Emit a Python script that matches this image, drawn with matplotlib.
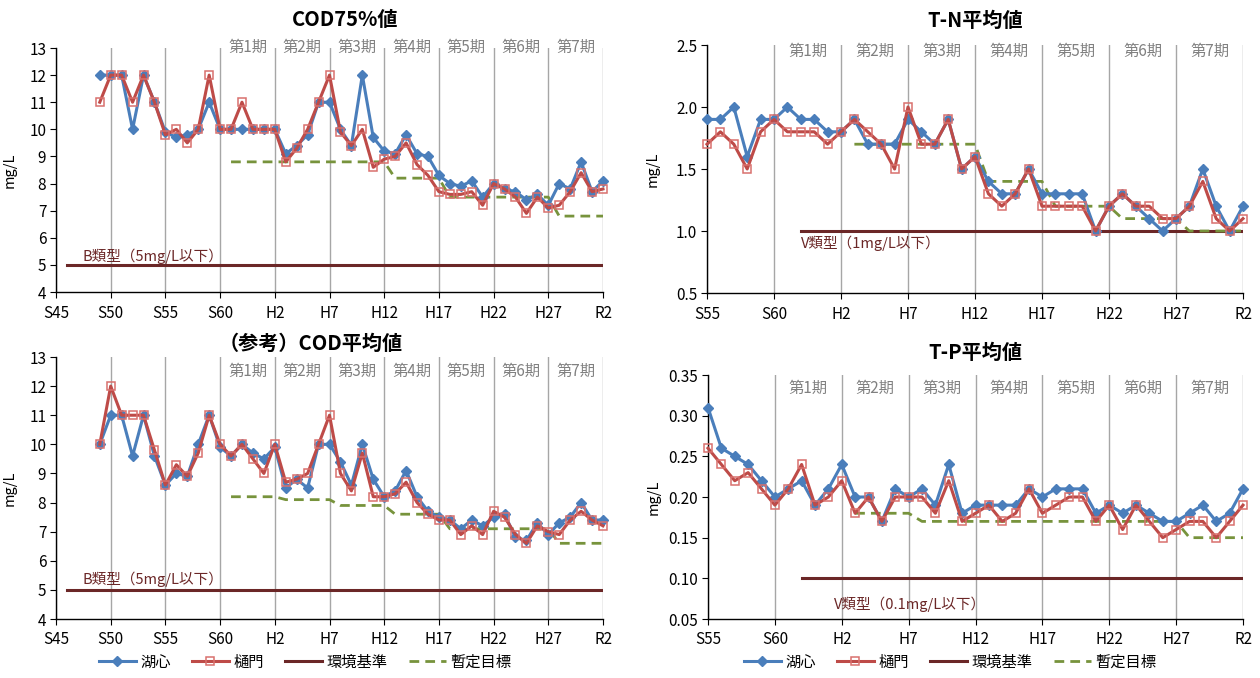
import matplotlib
matplotlib.use('Agg')
import matplotlib.pyplot as plt

plt.rcParams['font.family'] = ['Noto Sans CJK JP', 'DejaVu Sans']

W, H = 1260, 678

# ---- data ----
years_cod = list(range(1974, 2021))
years_np = list(range(1980, 2021))

cod75_center = [12.0, 12.0, 12.0, 10.0, 12.0, 11.0, 9.9, 9.7, 9.8, 10.0,
                11.0, 10.0, 10.0, 10.0, 10.0, 10.0, 10.0, 9.1, 9.4, 9.8,
                11.0, 11.0, 10.0, 9.4, 12.0, 9.7, 9.2, 9.1, 9.8, 9.1,
                9.0, 8.3, 8.0, 7.9, 8.1, 7.5, 8.0, 7.8, 7.7, 7.4,
                7.6, 7.2, 8.0, 7.8, 8.8, 7.7, 8.1]
cod75_gate = [11.0, 12.0, 12.0, 11.0, 12.0, 11.0, 9.8, 10.0, 9.5, 10.0,
              12.0, 10.0, 10.0, 11.0, 10.0, 10.0, 10.0, 8.8, 9.3, 10.0,
              11.0, 12.0, 9.9, 9.4, 10.0, 8.6, 8.9, 9.0, 9.5, 8.7,
              8.3, 7.7, 7.6, 7.6, 7.7, 7.2, 8.0, 7.8, 7.5, 6.9,
              7.5, 7.1, 7.2, 7.7, 8.4, 7.7, 7.8]

codavg_center = [10.0, 11.0, 11.0, 9.6, 11.0, 9.6, 8.6, 9.0, 8.9, 10.0,
                 11.0, 9.9, 9.6, 10.0, 9.7, 9.5, 9.9, 8.5, 8.8, 8.5,
                 10.0, 10.0, 9.4, 8.6, 10.0, 8.8, 8.2, 8.4, 9.1, 8.2,
                 7.7, 7.5, 7.4, 7.1, 7.4, 7.2, 7.5, 7.6, 6.8, 6.7,
                 7.3, 6.9, 7.3, 7.5, 8.0, 7.4, 7.4]
codavg_gate = [10.0, 12.0, 11.0, 11.0, 11.0, 9.8, 8.6, 9.3, 8.9, 9.7,
               11.0, 10.0, 9.6, 10.0, 9.5, 9.0, 10.0, 8.7, 8.8, 9.0,
               10.0, 11.0, 9.0, 8.4, 9.7, 8.2, 8.2, 8.3, 8.7, 8.0,
               7.6, 7.4, 7.4, 6.9, 7.2, 6.9, 7.7, 7.5, 6.9, 6.6,
               7.2, 7.0, 6.9, 7.4, 7.7, 7.4, 7.2]

tn_center = [1.9, 1.9, 2.0, 1.6, 1.9, 1.9, 2.0, 1.9, 1.9, 1.8,
             1.8, 1.9, 1.7, 1.7, 1.7, 1.9, 1.8, 1.7, 1.9, 1.5,
             1.6, 1.4, 1.3, 1.3, 1.5, 1.3, 1.3, 1.3, 1.3, 1.0,
             1.2, 1.3, 1.2, 1.1, 1.0, 1.1, 1.2, 1.5, 1.2, 1.0, 1.2]
tn_gate = [1.7, 1.8, 1.7, 1.5, 1.8, 1.9, 1.8, 1.8, 1.8, 1.7,
           1.8, 1.9, 1.8, 1.7, 1.5, 2.0, 1.7, 1.7, 1.9, 1.5,
           1.6, 1.3, 1.2, 1.3, 1.5, 1.2, 1.2, 1.2, 1.2, 1.0,
           1.2, 1.3, 1.2, 1.2, 1.1, 1.1, 1.2, 1.4, 1.1, 1.0, 1.1]

tp_center = [0.31, 0.26, 0.25, 0.24, 0.22, 0.20, 0.21, 0.22, 0.19, 0.21,
             0.24, 0.20, 0.20, 0.17, 0.21, 0.20, 0.21, 0.19, 0.24, 0.18,
             0.19, 0.19, 0.19, 0.19, 0.21, 0.20, 0.21, 0.21, 0.21, 0.18,
             0.19, 0.18, 0.19, 0.18, 0.17, 0.17, 0.18, 0.19, 0.17, 0.18, 0.21]
tp_gate = [0.26, 0.24, 0.22, 0.23, 0.21, 0.19, 0.21, 0.24, 0.19, 0.20,
           0.22, 0.18, 0.20, 0.17, 0.20, 0.20, 0.20, 0.18, 0.22, 0.17,
           0.18, 0.19, 0.17, 0.18, 0.21, 0.18, 0.19, 0.20, 0.20, 0.17,
           0.19, 0.16, 0.19, 0.17, 0.15, 0.16, 0.17, 0.17, 0.15, 0.17, 0.19]

# provisional targets (暫定目標)
years_tgt_cod = list(range(1986, 2021))
cod75_target = [8.8, 8.8, 8.8, 8.8, 8.8, 8.8, 8.8, 8.8, 8.8, 8.8,
                8.8, 8.8, 8.8, 8.8, 8.8, 8.2, 8.2, 8.2, 8.2, 8.2,
                7.5, 7.5, 7.5, 7.5, 7.5, 7.5, 7.5, 7.5, 7.5, 7.5,
                6.8, 6.8, 6.8, 6.8, 6.8]
codavg_target = [8.2, 8.2, 8.2, 8.2, 8.2, 8.1, 8.1, 8.1, 8.1, 8.1,
                 7.9, 7.9, 7.9, 7.9, 7.9, 7.6, 7.6, 7.6, 7.6, 7.6,
                 7.1, 7.1, 7.1, 7.1, 7.1, 7.1, 7.1, 7.1, 7.1, 7.1,
                 6.6, 6.6, 6.6, 6.6, 6.6]
years_tgt_np = list(range(1991, 2021))
tn_target = [1.7, 1.7, 1.7, 1.7, 1.7, 1.7, 1.7, 1.7, 1.7, 1.7,
             1.4, 1.4, 1.4, 1.4, 1.4, 1.2, 1.2, 1.2, 1.2, 1.2,
             1.1, 1.1, 1.1, 1.1, 1.1, 1.0, 1.0, 1.0, 1.0, 1.0]
tp_target = [0.18, 0.18, 0.18, 0.18, 0.18, 0.17, 0.17, 0.17, 0.17, 0.17,
             0.17, 0.17, 0.17, 0.17, 0.17, 0.17, 0.17, 0.17, 0.17, 0.17,
             0.17, 0.17, 0.17, 0.17, 0.17, 0.15, 0.15, 0.15, 0.15, 0.15]

# environmental standard (環境基準)
env_cod = 5.0
env_tn = 1.0
env_tp = 0.1
env_years_cod = [1971, 2020]
env_years_np = [1987, 2020]

tick_years_cod = [1970, 1975, 1980, 1985, 1990, 1995, 2000, 2005, 2010, 2015, 2020]
tick_labels_cod = ['S45', 'S50', 'S55', 'S60', 'H2', 'H7', 'H12', 'H17', 'H22', 'H27', 'R2']
tick_years_np = [1980, 1985, 1990, 1995, 2000, 2005, 2010, 2015, 2020]
tick_labels_np = ['S55', 'S60', 'H2', 'H7', 'H12', 'H17', 'H22', 'H27', 'R2']

period_names = ['第1期', '第2期', '第3期', '第4期', '第5期', '第6期', '第7期']
period_start = [1986, 1991, 1996, 2001, 2006, 2011, 2016]

BLUE = '#4A7EBB'
RED = '#BE4B48'
ENV = '#6B2727'
GREEN = '#77933C'
GRID = '#A6A6A6'


def px_ax(l, t, r, b):
    return fig.add_axes([l / W, 1 - b / H, (r - l) / W, (b - t) / H])


def draw_panel(ax, years, center, gate, tgt_years, tgt, env_years, env_val,
               xlim, xticks, xlabels, ylim, yticks, yfmt, period_dy):
    ax.plot(env_years, [env_val, env_val], color=ENV, lw=2.2, label='環境基準')
    ax.plot(tgt_years, tgt, color=GREEN, lw=2, ls=(0, (3.5, 2.2)), label='暫定目標')
    ax.plot(years, center, color=BLUE, lw=2.2, marker='D', ms=5.5,
            mec=BLUE, mfc=BLUE, label='湖心', clip_on=False, zorder=4)
    ax.plot(years, gate, color=RED, lw=2.2, marker='s', ms=6.3,
            mec='#D9706D', mfc='none', mew=1.1, label='樋門', clip_on=False, zorder=5)
    ax.set_xlim(*xlim)
    ax.set_ylim(*ylim)
    ax.set_xticks(xticks)
    ax.set_xticklabels(xlabels)
    ax.set_yticks(yticks)
    ax.set_yticklabels([yfmt % v for v in yticks])
    ax.grid(axis='x', color=GRID, lw=1)
    ax.set_axisbelow(True)
    for s in ['top', 'right']:
        ax.spines[s].set_visible(False)
    for s in ['left', 'bottom']:
        ax.spines[s].set_color('black')
        ax.spines[s].set_linewidth(1)
    ax.tick_params(axis='both', direction='out', length=4, labelsize=11, pad=3)
    ax.tick_params(axis='x', pad=5)
    for name, st in zip(period_names, period_start):
        ax.annotate(name, xy=(st + 1.5, 1.0), xycoords=('data', 'axes fraction'),
                    xytext=(0, -period_dy), textcoords='offset pixels',
                    ha='center', va='center', color='#808080', fontsize=11)


fig = plt.figure(figsize=(W / 100, H / 100), dpi=100)

ax1 = px_ax(56, 48, 603, 292)
draw_panel(ax1, years_cod, cod75_center, cod75_gate, years_tgt_cod, cod75_target,
           env_years_cod, env_cod, (1970, 2020), tick_years_cod, tick_labels_cod,
           (4, 13), list(range(4, 14)), '%d', -1)
ax1.text(1972.4, 5.33, 'B類型（5mg/L以下）', color=ENV, fontsize=10.5, va='center')

ax2 = px_ax(707, 45, 1243, 293)
draw_panel(ax2, years_np, tn_center, tn_gate, years_tgt_np, tn_target,
           env_years_np, env_tn, (1980, 2020), tick_years_np, tick_labels_np,
           (0.5, 2.5), [0.5, 1.0, 1.5, 2.0, 2.5], '%.1f', 6)
ax2.text(1987.0, 0.90, 'V類型（1mg/L以下）', color=ENV, fontsize=10.5, va='center')

ax3 = px_ax(56, 357, 603, 619)
draw_panel(ax3, years_cod, codavg_center, codavg_gate, years_tgt_cod, codavg_target,
           env_years_cod, env_cod, (1970, 2020), tick_years_cod, tick_labels_cod,
           (4, 13), list(range(4, 14)), '%d', 14)
ax3.text(1972.4, 5.37, 'B類型（5mg/L以下）', color=ENV, fontsize=10.5, va='center')

ax4 = px_ax(708, 375, 1243, 619)
draw_panel(ax4, years_np, tp_center, tp_gate, years_tgt_np, tp_target,
           env_years_np, env_tp, (1980, 2020), tick_years_np, tick_labels_np,
           (0.05, 0.35), [0.05, 0.10, 0.15, 0.20, 0.25, 0.30, 0.35], '%.2f', 13)
ax4.text(1989.4, 0.068, 'V類型（0.1mg/L以下）', color=ENV, fontsize=10.5, va='center')

for ax in [ax1, ax2, ax3, ax4]:
    ax.set_ylabel('mg/L', fontsize=10.5)
ax1.yaxis.set_label_coords(-39 / 547, 0.5)
ax3.yaxis.set_label_coords(-39 / 547, 0.5)
ax2.yaxis.set_label_coords(-47 / 536, 0.5)
ax4.yaxis.set_label_coords(-47 / 535, 0.5)

# titles
fig.text(345 / W, 1 - 20 / H, 'COD75%値', ha='center', va='center', fontsize=14.5, fontweight='bold')
fig.text(975 / W, 1 - 20 / H, 'T-N平均値', ha='center', va='center', fontsize=14.5, fontweight='bold')
fig.text(311 / W, 1 - 343 / H, '（参考）COD平均値', ha='center', va='center', fontsize=14.5, fontweight='bold')
fig.text(975 / W, 1 - 352 / H, 'T-P平均値', ha='center', va='center', fontsize=14.5, fontweight='bold')

# legends
handles, labels = ax1.get_legend_handles_labels()
order = [2, 3, 0, 1]
handles = [handles[i] for i in order]
labels = [labels[i] for i in order]
for cx in [305, 950]:
    fig.legend(handles, labels, loc='center', bbox_to_anchor=(cx / W, 1 - 662 / H),
               ncol=4, frameon=False, fontsize=11, handlelength=2.4,
               columnspacing=1.4, handletextpad=0.3, markerscale=0.85)

fig.savefig('out.png', dpi=100)
